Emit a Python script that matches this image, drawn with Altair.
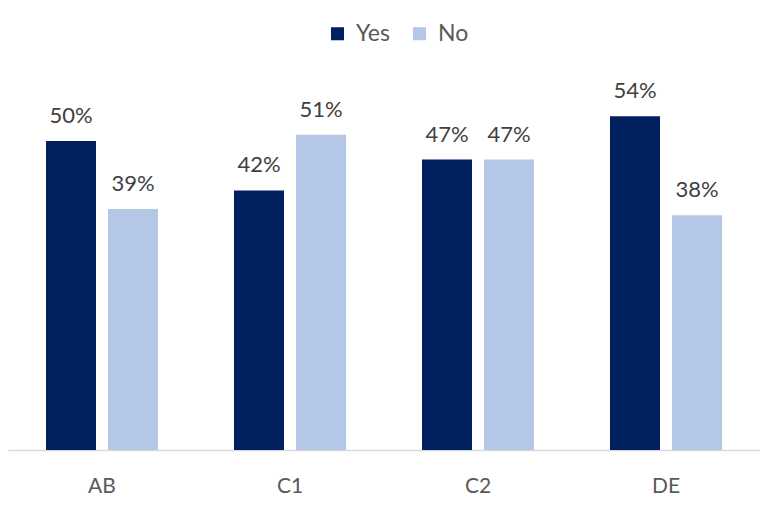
import altair as alt
import pandas as pd

categories = ["AB", "C1", "C2", "DE"]
yes_values = [0.50, 0.42, 0.47, 0.54]
no_values = [0.39, 0.51, 0.47, 0.38]
series = ["Yes", "No"]
colors = ["#002060", "#B4C7E7"]

rows = []
for c, y, n in zip(categories, yes_values, no_values):
    rows.append({"cat": c, "series": "Yes", "value": y})
    rows.append({"cat": c, "series": "No", "value": n})
df = pd.DataFrame(rows)

FONT = "Lato"
x = alt.X("cat:N", sort=categories, title=None,
          scale=alt.Scale(paddingInner=0, paddingOuter=0),
          axis=alt.Axis(labelAngle=0, ticks=False, labelPadding=25, labelFontSize=21,
                        labelColor="#595959", labelFont=FONT, domainColor="#D9D9D9",
                        domainWidth=1.5))
xo = alt.XOffset("series:N", sort=series,
                 scale=alt.Scale(paddingInner=0.1935, paddingOuter=0.613))
y = alt.Y("value:Q", scale=alt.Scale(domain=[0, 0.602], nice=False), axis=None)

bars = alt.Chart(df).mark_bar().encode(
    x=x, xOffset=xo, y=y,
    color=alt.Color("series:N", sort=series,
                    scale=alt.Scale(domain=series, range=colors),
                    legend=alt.Legend(title=None, orient="none", direction="horizontal",
                                      legendX=318, legendY=-56, symbolType="square",
                                      symbolSize=170, labelFontSize=23, labelFont=FONT,
                                      labelColor="#595959", columnPadding=18,
                                      symbolStrokeWidth=0, labelOffset=7)),
)
labels = alt.Chart(df).mark_text(baseline="bottom", dy=-13, fontSize=22, font=FONT,
                                 color="#404040").encode(
    x=x, xOffset=xo, y=y,
    text=alt.Text("value:Q", format=".0%"),
)

chart = (bars + labels).properties(
    width=752, height=372,
    autosize=alt.AutoSizeParams(type="none"),
    padding={"left": 0, "top": 70, "right": 0, "bottom": 60},
).configure_view(stroke=None)

chart.save("out.html", embed_options={"renderer": "svg", "actions": False})
